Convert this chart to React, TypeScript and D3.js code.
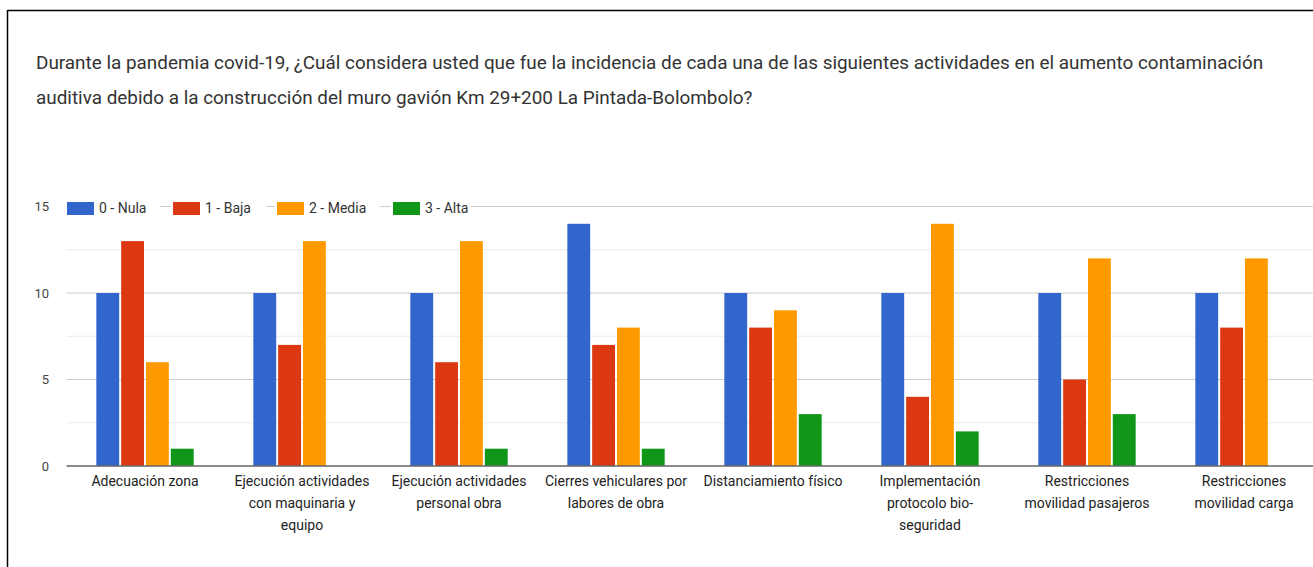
import React from "react";
import * as d3 from "d3";

const categories: string[][] = [
  ["Adecuación zona"],
  ["Ejecución actividades", "con maquinaria y", "equipo"],
  ["Ejecución actividades", "personal obra"],
  ["Cierres vehiculares por", "labores de obra"],
  ["Distanciamiento físico"],
  ["Implementación", "protocolo bio-", "seguridad"],
  ["Restricciones", "movilidad pasajeros"],
  ["Restricciones", "movilidad carga"],
];
const seriesNames = ["0 - Nula", "1 - Baja", "2 - Media", "3 - Alta"];
const nula = [10, 10, 10, 14, 10, 10, 10, 10];
const baja = [13, 7, 6, 7, 8, 4, 5, 8];
const media = [6, 13, 13, 8, 9, 14, 12, 12];
const alta = [1, 0, 1, 1, 3, 2, 3, 0];
const seriesValues = [nula, baja, media, alta];
const colors = ["#3366cc", "#dc3912", "#ff9900", "#109618"];
const majorTicks = [0, 5, 10, 15];
const minorTicks = [2.5, 7.5, 12.5];
const titleLines = [
  "Durante la pandemia covid-19, ¿Cuál considera usted que fue la incidencia de cada una de las siguientes actividades en el aumento contaminación",
  "auditiva debido a la construcción del muro gavión Km 29+200 La Pintada-Bolombolo?",
];

export default function App() {
  const W = 1313;
  const H = 567;
  const left = 66.5;
  const right = 1322.5;
  const keys = categories.map((_, i) => String(i));
  const x0 = d3.scaleBand<string>().domain(keys).range([left, right]).paddingInner(0.38).paddingOuter(0.19);
  const x1 = d3.scaleBand<string>().domain(seriesNames).range([0, x0.bandwidth()]).paddingInner(0.08);
  const y = d3.scaleLinear().domain([0, 15]).range([466, 206.5]);
  const font = "Roboto, Arial, sans-serif";

  const legendX = [67, 173, 277, 393];
  const legendW = [95, 95, 105, 80];

  return (
    <svg width={W} height={H} style={{ position: "absolute", left: 0, top: 0, background: "#fff" }}>
      <rect x={0} y={0} width={W} height={H} fill="#fff" />
      {titleLines.map((t, i) => (
        <text key={i} x={36} y={69 + i * 35} fontFamily={font} fontSize={18.9} fill="#333">
          {t}
        </text>
      ))}
      {minorTicks.map((t) => (
        <line key={"m" + t} x1={left} x2={W} y1={y(t)} y2={y(t)} stroke="#ebebeb" strokeWidth={1} />
      ))}
      {majorTicks.filter((t) => t !== 0).map((t) => (
        <line key={"g" + t} x1={left} x2={W} y1={y(t)} y2={y(t)} stroke="#cccccc" strokeWidth={1} />
      ))}
      {majorTicks.map((t) => (
        <text key={"t" + t} x={49} y={y(t) + 4.5} textAnchor="end" fontFamily={font} fontSize={13} fill="#444">
          {t}
        </text>
      ))}
      {categories.map((_, ci) =>
        seriesNames.map((s, si) => {
          const v = seriesValues[si][ci];
          if (v <= 0) return null;
          return (
            <rect
              key={ci + "-" + si}
              x={(x0(String(ci)) as number) + (x1(s) as number)}
              y={y(v)}
              width={x1.bandwidth()}
              height={y(0) - y(v)}
              fill={colors[si]}
            />
          );
        })
      )}
      <line x1={left} x2={W} y1={y(0)} y2={y(0)} stroke="#666" strokeWidth={1.5} />
      {categories.map((lines, ci) => (
        <text
          key={"c" + ci}
          textAnchor="middle"
          fontFamily={font}
          fontSize={14}
          fill="#222"
        >
          {lines.map((l, li) => (
            <tspan key={li} x={(x0(String(ci)) as number) + x0.bandwidth() / 2} y={486 + li * 22}>
              {l}
            </tspan>
          ))}
        </text>
      ))}
      {seriesNames.map((s, i) => (
        <g key={"l" + i} transform={`translate(${legendX[i]},0)`}>
          <rect x={-2} y={200} width={legendW[i]} height={16} fill="#fff" />
          <rect x={0} y={202} width={27} height={13} fill={colors[i]} />
          <text x={32} y={213} fontFamily={font} fontSize={14} fill="#333">
            {s}
          </text>
        </g>
      ))}
      <line x1={7.5} x2={7.5} y1={10} y2={H} stroke="#000" strokeWidth={1.5} />
      <line x1={7.5} x2={W} y1={10.5} y2={10.5} stroke="#000" strokeWidth={1.5} />
    </svg>
  );
}
